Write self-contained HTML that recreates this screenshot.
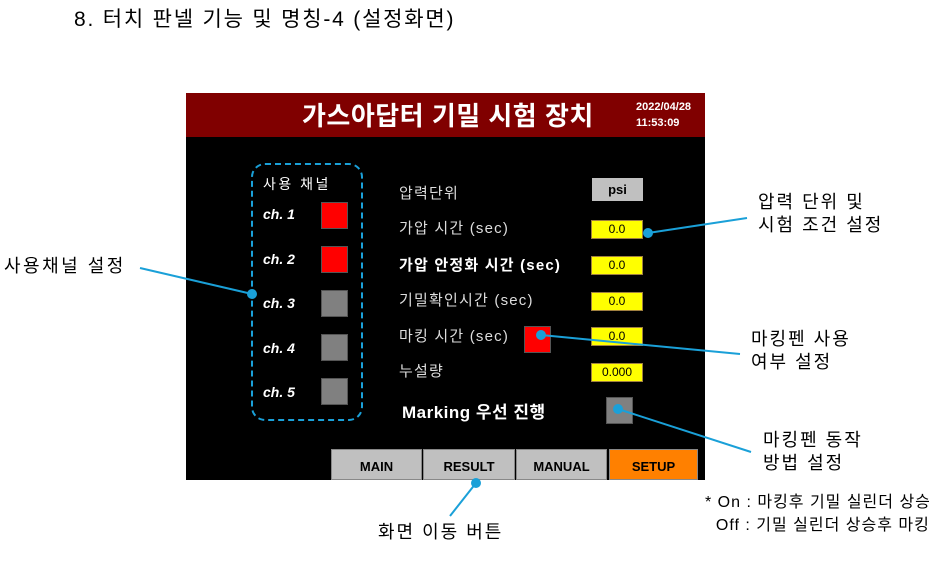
<!DOCTYPE html>
<html><head><meta charset="utf-8"><style>
body{margin:0;width:942px;height:574px;background:#fff;position:relative;overflow:hidden;font-family:"Liberation Sans","Noto Sans CJK KR",sans-serif}
.a{position:absolute;white-space:nowrap}
.k{font-family:"Liberation Sans","Noto Sans CJK KR",sans-serif}
.lbl{color:#ddd;font-size:15px;letter-spacing:1.2px}
.ann{font-size:18px;letter-spacing:2px;line-height:23px}
.y{position:absolute;left:591px;width:50px;height:17px;background:#ff0;border:1px solid #a08040;font-size:12px;text-align:center;line-height:17px;color:#000}
.ch{position:absolute;left:263px;color:#fff;font-weight:bold;font-style:italic;font-size:14px}
.sq{position:absolute;left:321px;width:25px;height:25px;border:1px solid #555}
.btn{position:absolute;top:449px;height:31px;background:#c0c0c0;border:1px solid #888;font-weight:bold;font-size:13px;text-align:center;line-height:33px;color:#000;box-sizing:border-box}
</style></head><body>
<div class="a k" style="left:74px;top:3px;font-size:21px;letter-spacing:1.8px;color:#000">8. 터치 판넬 기능 및 명칭-4 (설정화면)</div>
<div class="a" style="left:186px;top:93px;width:519px;height:387px;background:#000"></div>
<div class="a" style="left:186px;top:93px;width:519px;height:44px;background:#800000"></div>
<div class="a k" style="left:302px;top:96px;font-size:26px;font-weight:bold;color:#fff;letter-spacing:0.5px">가스아답터 기밀 시험 장치</div>
<div class="a" style="left:636px;top:99px;font-size:11px;font-weight:bold;color:#fff;line-height:16px">2022/04/28<br>11:53:09</div>
<div class="a" style="left:251px;top:163px;width:108px;height:254px;border:2px dashed #1aa0d8;border-radius:14px"></div>
<div class="a k" style="left:263px;top:174px;color:#fff;font-size:14px;letter-spacing:2.5px">사용 채널</div>
<div class="ch" style="top:206px">ch. 1</div><div class="sq" style="top:202px;background:#f00"></div>
<div class="ch" style="top:251px">ch. 2</div><div class="sq" style="top:246px;background:#f00"></div>
<div class="ch" style="top:295px">ch. 3</div><div class="sq" style="top:290px;background:#808080"></div>
<div class="ch" style="top:340px">ch. 4</div><div class="sq" style="top:334px;background:#808080"></div>
<div class="ch" style="top:384px">ch. 5</div><div class="sq" style="top:378px;background:#808080"></div>
<div class="a k lbl" style="left:399px;top:182px">압력단위</div>
<div class="a" style="left:592px;top:178px;width:51px;height:23px;background:#c0c0c0;font-weight:bold;font-size:13px;text-align:center;line-height:23px">psi</div>
<div class="a k lbl" style="left:399px;top:217px">가압 시간 (sec)</div><div class="y" style="top:220px">0.0</div>
<div class="a k lbl" style="left:399px;top:254px;color:#fff;font-weight:bold;letter-spacing:1.2px">가압 안정화 시간 (sec)</div><div class="y" style="top:256px">0.0</div>
<div class="a k lbl" style="left:399px;top:289px">기밀확인시간 (sec)</div><div class="y" style="top:292px">0.0</div>
<div class="a k lbl" style="left:399px;top:325px">마킹 시간 (sec)</div><div class="y" style="top:327px">0.0</div>
<div class="a" style="left:524px;top:326px;width:25px;height:25px;background:#f00;border:1px solid #555"></div>
<div class="a k lbl" style="left:399px;top:360px">누설량</div><div class="y" style="top:363px">0.000</div>
<div class="a k" style="left:402px;top:398px;color:#fff;font-weight:bold;font-size:17px;letter-spacing:0.5px">Marking 우선 진행</div>
<div class="a" style="left:606px;top:397px;width:25px;height:25px;background:#808080;border:1px solid #555"></div>
<div class="btn" style="left:331px;width:91px">MAIN</div>
<div class="btn" style="left:423px;width:92px">RESULT</div>
<div class="btn" style="left:516px;width:91px">MANUAL</div>
<div class="btn" style="left:609px;width:89px;background:#ff8000">SETUP</div>
<svg class="a" style="left:0;top:0" width="942" height="574">
<g stroke="#1aa0d8" stroke-width="2" fill="#1aa0d8">
<line x1="140" y1="268" x2="252" y2="294"/><circle cx="252" cy="294" r="4"/>
<line x1="648" y1="233" x2="747" y2="218"/><circle cx="648" cy="233" r="4"/>
<line x1="541" y1="335" x2="740" y2="354"/><circle cx="541" cy="335" r="4"/>
<line x1="618" y1="409" x2="751" y2="452"/><circle cx="618" cy="409" r="4"/>
<line x1="476" y1="483" x2="450" y2="516"/><circle cx="476" cy="483" r="4"/>
</g></svg>
<div class="a k ann" style="left:4px;top:255px;letter-spacing:2.5px">사용채널 설정</div>
<div class="a k ann" style="left:758px;top:191px">압력 단위 및<br>시험 조건 설정</div>
<div class="a k ann" style="left:751px;top:328px">마킹펜 사용<br>여부 설정</div>
<div class="a k ann" style="left:763px;top:429px">마킹펜 동작<br>방법 설정</div>
<div class="a k ann" style="left:378px;top:521px">화면 이동 버튼</div>
<div class="a k" style="left:705px;top:491px;font-size:16px;line-height:23px;letter-spacing:1px">* On : 마킹후 기밀 실린더 상승<br>&nbsp;&nbsp;Off : 기밀 실린더 상승후 마킹</div>
</body></html>
